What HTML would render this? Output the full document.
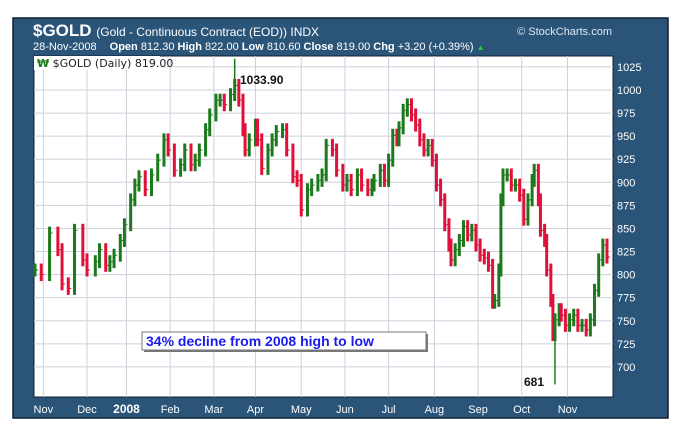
<!DOCTYPE html>
<html><head><meta charset="utf-8"><style>
body{margin:0;background:#fff;width:678px;height:429px;overflow:hidden;font-family:"Liberation Sans",sans-serif}
svg{display:block}
</style></head><body>
<svg id="c" width="678" height="429">
<rect x="13" y="18" width="655" height="400" fill="#2b5479" stroke="#0c1f33" stroke-width="1.5"/>
<text x="33" y="36" fill="#fff" font-size="17" font-weight="bold">$GOLD <tspan font-size="12" font-weight="normal">(Gold - Continuous Contract (EOD)) INDX</tspan></text>
<text x="612" y="35" fill="#dfe8f0" font-size="11" text-anchor="end">© StockCharts.com</text>
<text x="33" y="50" fill="#fff" font-size="11">28-Nov-2008 <tspan dx="10" font-weight="bold">Open</tspan> 812.30 <tspan font-weight="bold">High</tspan> 822.00 <tspan font-weight="bold">Low</tspan> 810.60 <tspan font-weight="bold">Close</tspan> 819.00 <tspan font-weight="bold">Chg</tspan> +3.20 (+0.39%) <tspan fill="#3c3" font-size="8">▲</tspan></text>
<rect x="34" y="56" width="579" height="341" fill="#fff" stroke="#0c1f33" stroke-width="1"/>
<g id="grid"></g><g id="bars"></g><g id="axes"></g>
<rect x="34" y="56" width="126" height="14" fill="#fff"/>
<text x="37" y="67" font-size="11" fill="#222" font-family="DejaVu Sans,sans-serif"><tspan fill="#1a7a1a" font-weight="bold">₩</tspan> $GOLD (Daily) 819.00</text>
<text x="240" y="84" font-size="12" font-weight="bold" fill="#111">1033.90</text>
<text x="524" y="386" font-size="12" font-weight="bold" fill="#111">681</text>
<rect x="144" y="334" width="284" height="18" fill="#777"/>
<rect x="142" y="332" width="284" height="18" fill="#fff" stroke="#777"/>
<text x="146" y="346" font-size="14" font-weight="bold" fill="#1a1aee">34% decline from 2008 high to low</text>
</svg>
<script>
const days=[0,3,7,11,13,16,19,23,25,29,31,34,36,38,41,43,46,48,50,53,56,59,62,64,67,70,72,75,77,79,82,84,87,89,91,94,96,98,100,101,103,106,107,109,112,114,116,119,121,124,126,128,131,133,136,138,140,143,145,148,150,152,155,157,160,162,163,166,168,170,172,174,175,177,179,181,183,185,187,189,191,193,195,197,199,200,202,204,206,208,210,212,214,216,218,220,221,223,224,225,227,229,231,233,235,237,239,240,242,243,245,246,248,249,250,252,253,255,257,259,261,263,265,267,269,271,273,275];
const closes=[805,800,845,827,790,785,848,816,805,814,827,810,814,821,837,854,881,897,906,892,908,924,946,935,913,919,935,919,924,935,957,973,989,989,984,995,1005,989,957,935,946,962,946,915,935,946,955,957,935,906,902,870,892,897,902,908,940,935,913,897,902,892,908,897,892,897,902,913,902,924,951,946,959,978,984,973,962,946,935,940,924,897,881,854,832,816,827,837,852,843,848,832,821,818,810,770,772,805,881,908,908,897,897,886,860,881,902,913,881,848,837,805,772,735,751,762,756,745,751,756,745,745,740,751,783,816,832,819];
const extremeDays=[96,250];
const extremeValues=[1033.9,681];
const yTicks=[700,725,750,775,800,825,850,875,900,925,950,975,1000,1025];
const monthLabels=["Nov","Dec","2008","Feb","Mar","Apr","May","Jun","Jul","Aug","Sep","Oct","Nov"];
const monthDays=[4,25,44,65,86,106,128,149,170,192,213,234,256];
const NS="http://www.w3.org/2000/svg";
const X=d=>35+d*(607-35)/275;
const Y=v=>90+(1000-v)*0.923;
function mk(p,t,a){const e=document.createElementNS(NS,t);for(const k in a)e.setAttribute(k,a[k]);p.appendChild(e);return e;}
const grid=document.getElementById('grid'),bars=document.getElementById('bars'),axes=document.getElementById('axes');
yTicks.forEach(v=>{
 const l=mk(grid,'line',{x1:34,x2:613,y1:Y(v),y2:Y(v),stroke:'#cfd0dc','stroke-width':1});
 
 
 const t=mk(axes,'text',{x:617,y:Y(v)+4,fill:'#fff','font-size':11});
 t.textContent=v;
 
 
});
monthDays.forEach((d,i)=>{
 const l=mk(grid,'line',{x1:X(d),x2:X(d),y1:56,y2:397,stroke:'#cfd0dc','stroke-width':1});
 
 
 const t=mk(axes,'text',{x:X(d),y:413,fill:'#fff','font-size':i==2?12:11,'font-weight':i==2?'bold':'normal','text-anchor':'middle'});
 t.textContent=monthLabels[i];
 
 
});
closes.forEach((c,i)=>{
 const o=i?closes[i-1]:c;
 const col=c>=o?'#1c7a1c':'#e0103a';
 const hi=Math.max(o,c)+7,lo=Math.min(o,c)-7;
 const b=mk(bars,'line',{x1:X(days[i]),x2:X(days[i]),y1:Y(hi),y2:Y(lo),stroke:col,'stroke-width':3});
 
 
 const t=mk(bars,'line',{x1:X(days[i]),x2:X(days[i])+3,y1:Y(c),y2:Y(c),stroke:col,'stroke-width':1});
 
 
});
extremeDays.forEach((d,i)=>{
 const ref=closes[days.indexOf(d)];
 const e=mk(bars,'line',{x1:X(d),x2:X(d),y1:Y(extremeValues[i]),y2:Y(ref),stroke:'#1c7a1c','stroke-width':1.5});
 
 
});
</script>
</body></html>
